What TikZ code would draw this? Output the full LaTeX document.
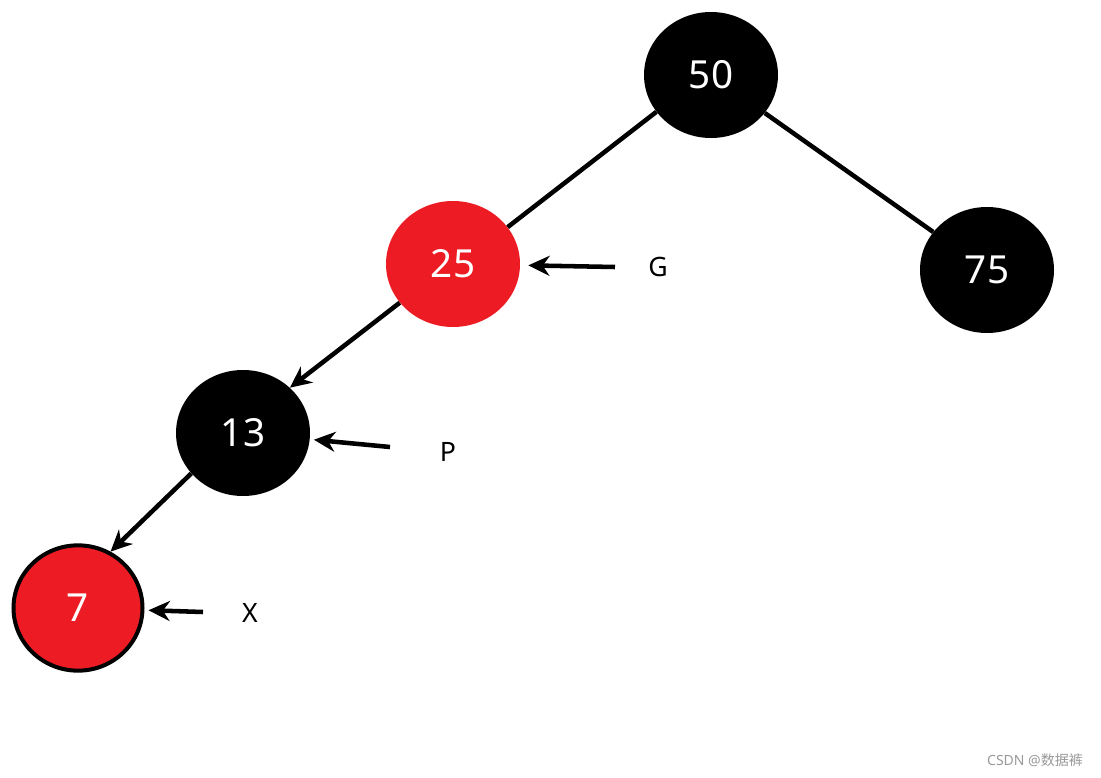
\documentclass[tikz,border=0pt]{standalone}
\usepackage{fontspec}
\setmainfont{Noto Sans}
\newfontfamily\cjkfont{Noto Sans CJK SC}
\usetikzlibrary{arrows.meta,shapes.geometric}
\definecolor{rbred}{HTML}{ED1C24}
\definecolor{markgray}{HTML}{999999}
\begin{document}
\begin{tikzpicture}[x=0.75pt,y=-0.75pt,
  rbnode/.style={ellipse,inner sep=0pt,minimum width=100.5pt,minimum height=94.5pt,text=white,font=\fontsize{29}{29}\selectfont},
  blacknode/.style={rbnode,fill=black},
  rednode/.style={rbnode,fill=rbred},
  edge/.style={line width=3.4pt},
  ptr/.style={line width=3.4pt,-{Stealth[length=16pt,width=15pt]}},
  tag/.style={font=\fontsize{20}{20}\selectfont}]
\useasboundingbox (0,0) rectangle (1101,778);
% the tree
\node[blacknode] (n50) at (711,75) {50};
\node[rednode] (n25) at (453,264) {25};
\node[blacknode] (n75) at (987,270) {75};
\node[blacknode] (n13) at (243,433) {13};
\node[rednode,draw=black,line width=3pt,minimum width=96.75pt,minimum height=94pt] (n7) at (78,608) {7};
\draw[edge] (n50.214) -- (n25.34);
\draw[edge] (n50) -- (n75);
\draw[ptr] (n25.216) -- (n13.44);
\draw[ptr] (n13.218) -- (n7.60);
% labels
\node[tag] (lG) at (658,267) {G};
\node[tag] (lP) at (448,452) {P};
\node[tag] (lX) at (250,613) {X};
\coordinate (tG) at (615,267);
\coordinate (tP) at (390,447);
\coordinate (tX) at (203,612);
\draw[ptr,shorten >=6pt] (tG) -- (n25);
\draw[ptr,shorten >=3pt] (tP) -- (n13);
\draw[ptr,shorten >=3pt] (tX) -- (n7);
\node[text=markgray,font=\fontsize{10.5}{10.5}\selectfont] (mark) at (1035,760) {CSDN @{\cjkfont 数据裤}};
\end{tikzpicture}
\end{document}
